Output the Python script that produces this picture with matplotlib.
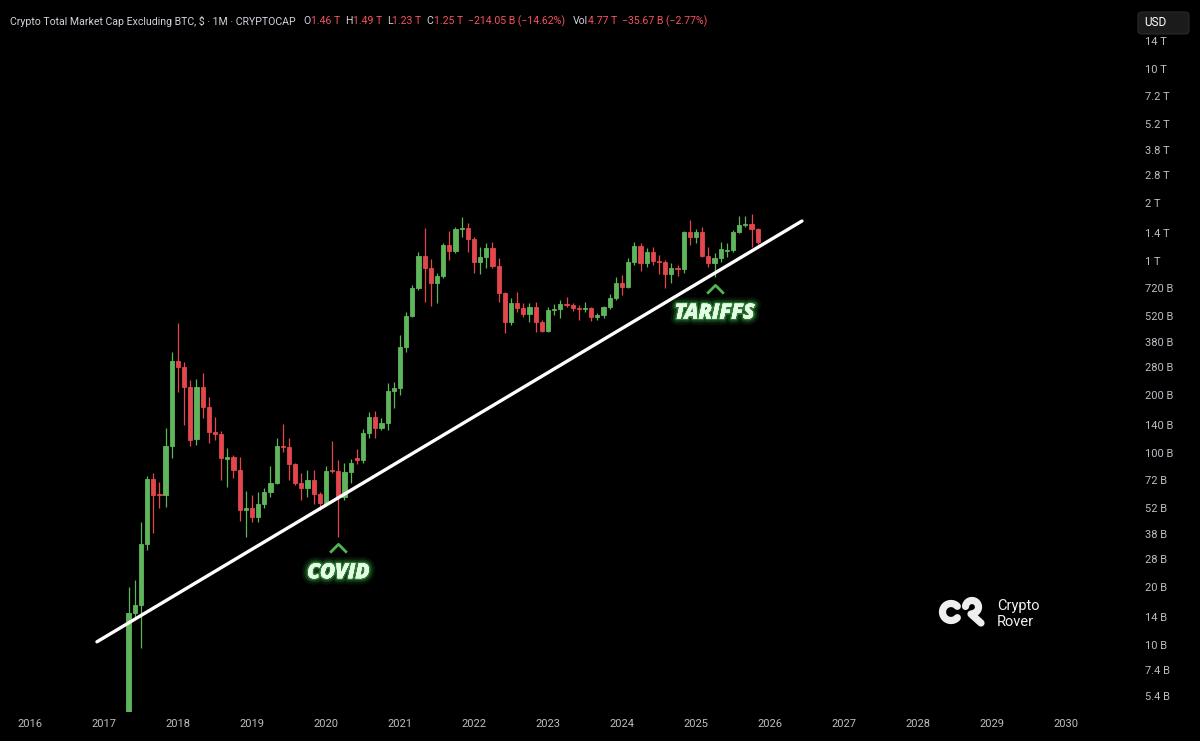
import pandas as pd
import numpy as np
import matplotlib
matplotlib.use('Agg')
import matplotlib.pyplot as plt
import matplotlib.patheffects as pe
from matplotlib.path import Path
from matplotlib.patches import FancyBboxPatch

# ---------------- dados (bilhões de USD, velas mensais) ----------------
meses = pd.period_range('2017-05', '2025-11', freq='M')

abertura = [3.9, 14.7, 16.2, 33.6, 73.2, 61.2, 60.4, 108.8, 301, 280,
            220.6, 118, 220.6, 174, 128.7, 125.6, 93.5, 95.0, 81.6, 50.5,
            51.5, 46.4, 54.3, 62.7, 69.8, 108.8, 107.5, 87.7, 69.8, 65.7,
            72.4, 61.2, 55.0, 81.6, 80.6, 59.0, 79.6, 94.2, 92.0, 127.1,
            154, 135, 143.3, 210.4, 218, 356, 517, 723.6, 1062, 919.5,
            768, 835, 1211.5, 1127, 1468, 1486, 1302, 988, 1049, 1169,
            941.8, 681, 481, 604, 569, 529.6, 576, 481, 432, 555.6,
            562, 597, 590, 569, 562, 569, 511, 523, 576, 641.6,
            768, 732, 988, 1197, 976, 1114, 1006, 994, 856, 925,
            914, 1416, 1334, 1416, 1062, 976, 1037, 1127, 1141, 1416,
            1540, 1559, 1460]

maxima = [20.1, 21.8, 43.8, 75.9, 78.7, 70.7, 135, 336, 475, 297,
          240, 243, 261, 195.8, 154, 130, 106.2, 97.7, 95.4, 63.4,
          60.4, 62.7, 65.7, 85.6, 119.7, 141.8, 119.7, 88.7, 78.7, 81.6,
          81.6, 62.7, 85.6, 115.5, 92.0, 88.7, 93.1, 104.9, 133.4, 163.6,
          165.5, 152.2, 231.5, 234, 411.8, 542.5, 750, 1114, 1486, 1024,
          866, 1241, 1433, 1504, 1695, 1578, 1334, 1183, 1241, 1256,
          1037, 689.6, 641.6, 689.6, 604, 604, 611.7, 493, 576, 597,
          626.5, 649, 604, 590, 611.7, 576, 536, 583, 673, 825.4,
          845.5, 1037, 1256, 1241, 1169, 1183, 1075, 1012, 976, 953,
          1433, 1636, 1468, 1504, 1183, 1101, 1256, 1241, 1450, 1716,
          1716, 1757, 1490]

minimas = [3.9, 14.0, 9.7, 31.2, 38.4, 51.8, 52.4, 94.2, 207.5, 140,
           108.8, 110, 152.6, 112.8, 116.9, 72.4, 66.5, 74.1, 44.3, 36.6,
           43.8, 43.8, 51.8, 59.0, 69.0, 101.3, 72.4, 68.2, 56.9, 59.0,
           54.3, 50.5, 54.3, 78.7, 36.6, 56.9, 69.8, 87.7, 88.7, 119.7,
           119.7, 131.8, 131.8, 171.9, 200.6, 336, 511, 706, 611.7, 583,
           604, 815.6, 1012, 1101, 1334, 1114, 866, 856, 919.5, 919.5,
           611.7, 421.8, 464.2, 542.5, 511, 481, 427, 427, 427, 523,
           505, 576, 549, 493, 542.5, 487, 493, 505, 562, 626.5,
           665, 725, 953, 887, 930.6, 953, 856, 723.6, 768, 835,
           866, 1211.5, 1241, 1049, 930.6, 825.4, 988, 1049, 1114, 1399,
           1504, 1183, 1230]

fechamento = [14.7, 16.2, 33.6, 73.2, 60.4, 60.4, 108.8, 301, 280, 220.6,
              116.7, 220.6, 174, 128.7, 125.6, 94.2, 95.0, 81.6, 50.5, 51.5,
              46.4, 54.3, 62.7, 69.8, 108.8, 107.5, 87.7, 69.8, 65.7, 72.4,
              61.2, 55.0, 80.6, 80.6, 59.0, 79.6, 88.7, 92.0, 127.1, 154,
              135, 143.3, 210.4, 218, 356, 517, 723.6, 1062, 919.5, 768,
              835, 1211.5, 1127, 1468, 1486, 1302, 988, 1049, 1169, 941.8,
              681, 481, 604, 569, 529.6, 576, 481, 432, 555.6, 562,
              597, 590, 569, 562, 569, 511, 523, 576, 641.6, 768,
              732, 988, 1197, 976, 1114, 1000, 994, 856, 919.5, 914,
              1416, 1334, 1416, 1062, 976, 1037, 1155, 1141, 1416, 1540,
              1559, 1464, 1250]

# linha de tendência (dois pontos: ano decimal, bilhões)
tend_x = [2016.905, 2026.432]
tend_y = [10.4, 1616]

ticks_y = [5.4, 7.4, 10, 14, 20, 28, 38, 52, 72, 100, 140, 200, 280, 380, 520, 720,
           1000, 1400, 2000, 2800, 3800, 5200, 7200, 10000, 14000]
labels_y = ['5.4 B', '7.4 B', '10 B', '14 B', '20 B', '28 B', '38 B', '52 B', '72 B',
            '100 B', '140 B', '200 B', '280 B', '380 B', '520 B', '720 B',
            '1 T', '1.4 T', '2 T', '2.8 T', '3.8 T', '5.2 T', '7.2 T', '10 T', '14 T']
anos = list(range(2016, 2031))

VERDE = '#5fb55c'
VERMELHO = '#e2474e'
CINZA = '#bcbec4'

# ---------------- figura ----------------
fig = plt.figure(figsize=(12, 7.41), dpi=100, facecolor='black')
ax = fig.add_axes([0, 0.0391, 0.9417, 0.9069], facecolor='black')

x = meses.year + (meses.month - 1) / 12
o = np.array(abertura)
c = np.array(fechamento)
cores = [VERDE if cc >= oo else VERMELHO for oo, cc in zip(o, c)]

ax.vlines(x, minimas, maxima, colors=cores, linewidth=0.9, zorder=2)
ax.bar(x, np.abs(c - o), bottom=np.minimum(o, c), width=0.058,
       color=cores, edgecolor=cores, linewidth=0.6, zorder=3)

ax.plot(tend_x, tend_y, color='white', linewidth=2.4, solid_capstyle='round', zorder=4)

ax.set_yscale('log')
ax.set_ylim(4.48, 14160)
ax.set_xlim(2015.595, 2030.865)

ax.yaxis.tick_right()
ax.set_yticks(ticks_y)
ax.set_yticklabels(labels_y)
ax.yaxis.set_minor_locator(matplotlib.ticker.NullLocator())
ax.set_xticks(anos)
ax.set_xticklabels([str(a) for a in anos])
ax.tick_params(axis='y', length=0, pad=11, labelsize=8, labelcolor=CINZA)
ax.tick_params(axis='x', length=0, pad=5, labelsize=8, labelcolor=CINZA)
for lab in ax.get_xticklabels() + ax.get_yticklabels():
    lab.set_family('Roboto')
for s in ax.spines.values():
    s.set_visible(False)

# ---------------- anotações ----------------
chevron = Path([(-1, -0.5), (0, 0.5), (1, -0.5)], [Path.MOVETO, Path.LINETO, Path.LINETO])
brilho = [pe.withStroke(linewidth=9, foreground=(0.25, 0.8, 0.3, 0.10)),
          pe.withStroke(linewidth=5.5, foreground=(0.3, 0.85, 0.35, 0.18)),
          pe.withStroke(linewidth=2.5, foreground=(0.4, 0.9, 0.45, 0.35)),
          pe.Normal()]

for xa, ya_seta, ya_txt, txt in [(2020 + 2 / 12, 32.2, 23.8, 'COVID'),
                                 (2025 + 3 / 12, 715, 536, 'TARIFFS')]:
    ax.plot([xa], [ya_seta], marker=chevron, markersize=12, mfc='none',
            mec='#4fb653', mew=2.0, zorder=5)
    ax.text(xa, ya_txt, txt, ha='center', va='center', fontsize=15,
            fontweight='heavy', fontstyle='italic', family='Open Sans',
            color='#e4fbe4', path_effects=brilho, zorder=6)

# ---------------- logo (camada em pixels) ----------------
ov = fig.add_axes([0, 0, 1, 1], facecolor='none')
ov.set_xlim(0, 1200)
ov.set_ylim(741, 0)
ov.axis('off')

t = np.radians(np.linspace(42, 318, 60))
ov.plot(951 + 8.5 * np.cos(t), 612 - 8.5 * np.sin(t), color='#eeeeee',
        linewidth=5.2, solid_capstyle='round')
t = np.radians(np.linspace(175, -75, 60))
ov.plot(972 + 6.5 * np.cos(t), 607 - 6.5 * np.sin(t), color='#eeeeee',
        linewidth=5.2, solid_capstyle='round')
ov.plot([971, 981], [614, 623], color='#eeeeee', linewidth=5.2, solid_capstyle='round')

ov.text(997, 606, 'Crypto', ha='left', va='center', fontsize=10.5,
        family='Roboto', color='#f0f0f0')
ov.text(997, 622, 'Rover', ha='left', va='center', fontsize=10.5,
        family='Roboto', color='#f0f0f0')

# ---------------- botão USD ----------------
caixa = FancyBboxPatch((1138 / 1200, 1 - 34 / 741), 51 / 1200, 22 / 741,
                       boxstyle='round,pad=0,rounding_size=0.004',
                       transform=fig.transFigure, facecolor='#1b1b1b',
                       edgecolor='#2a2a2a', linewidth=0.8)
fig.patches.append(caixa)
fig.text(1144 / 1200, 1 - 23 / 741, 'USD', ha='left', va='center', fontsize=8.5,
         family='Roboto', color='white')

# ---------------- cabeçalho ----------------
BRANCO = '#d1d4dc'
VERM_TXT = '#f7525f'
partes = [('Crypto Total Market Cap Excluding BTC, $ · 1M · CRYPTOCAP', BRANCO, 8),
          ('O', BRANCO, 0), ('1.46 T', VERM_TXT, 5),
          ('H', BRANCO, 0), ('1.49 T', VERM_TXT, 5),
          ('L', BRANCO, 0), ('1.23 T', VERM_TXT, 5),
          ('C', BRANCO, 0), ('1.25 T', VERM_TXT, 5),
          ('−214.05 B (−14.62%)', VERM_TXT, 8),
          ('Vol', BRANCO, 0), ('4.77 T', VERM_TXT, 5),
          ('−35.67 B (−2.77%)', VERM_TXT, 0)]

fig.canvas.draw()
r = fig.canvas.get_renderer()
px = 10
for txt, cor, gap in partes:
    tx = fig.text(px / 1200, 1 - 21 / 741, txt, color=cor, fontsize=7.6,
                  family='Roboto', ha='left', va='center')
    px += tx.get_window_extent(renderer=r).width + gap

fig.savefig('out.png', dpi=100, facecolor='black')
